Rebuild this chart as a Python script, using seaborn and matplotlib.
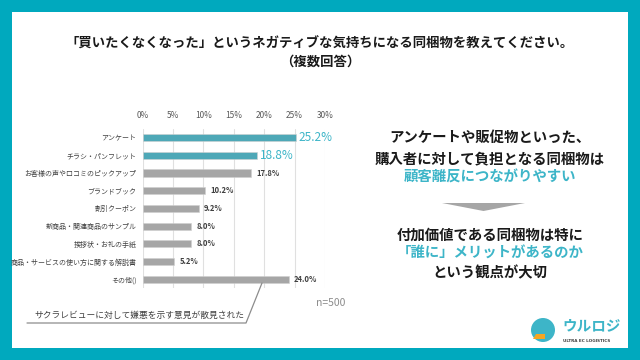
import matplotlib
matplotlib.use("Agg")
import matplotlib.pyplot as plt
import seaborn as sns
import pandas as pd
from matplotlib.patches import Rectangle, Polygon, Ellipse
from matplotlib.lines import Line2D

sns.set_style("white")
plt.rcParams['font.family'] = ['Noto Sans CJK JP', 'DejaVu Sans']

# data
categories = ["アンケート", "チラシ・パンフレット", "お客様の声や口コミのピックアップ",
              "ブランドブック", "割引クーポン", "新商品・関連商品のサンプル",
              "挨拶状・お礼の手紙", "商品・サービスの使い方に関する解説書", "その他()"]
values = [25.2, 18.8, 17.8, 10.2, 9.2, 8.0, 8.0, 5.2, 24.0]
highlight = [True, True, False, False, False, False, False, False, False]
xticks = [0, 5, 10, 15, 20, 25, 30]

TEAL = "#00a9be"
BAR_TEAL = "#3db5c8"
GRAY = "#a6a6a6"

df = pd.DataFrame({"cat": categories, "val": values})
df["grp"] = ["hi" if h else "lo" for h in highlight]

fig = plt.figure(figsize=(6.4, 3.6), dpi=100)
fig.patch.set_facecolor(TEAL)

def px(x, y):
    return (x / 640, 1 - y / 360)

# white panel
x0, y0 = px(12, 348)
fig.patches.append(Rectangle((x0, y0), (628 - 12) / 640, (348 - 12) / 360,
                             transform=fig.transFigure, facecolor="white",
                             edgecolor="none", zorder=-5))

# title
fig.text(*px(320, 44), "「買いたくなくなった」というネガティブな気持ちになる同梱物を教えてください。",
         ha="center", va="center", fontsize=9.6, fontweight="bold", color="#1a1a1a")
fig.text(*px(320, 62), "（複数回答）", ha="center", va="center", fontsize=9.6,
         fontweight="bold", color="#1a1a1a")

# bar chart
left, right = 142.7, 325
top, bottom = 128.8, 288
ax = fig.add_axes([left / 640, 1 - bottom / 360, (right - left) / 640, (bottom - top) / 360])
ax.set_zorder(2)
ax.set_facecolor("none")
sns.barplot(data=df, x="val", y="cat", hue="grp", palette={"hi": BAR_TEAL, "lo": GRAY},
            dodge=False, legend=False, width=0.4, ax=ax, orient="h",
            edgecolor="#d0d0d0", linewidth=0.4)
ax.set_xlim(0, 30)
ax.set_ylim(8.5, -0.5)
ax.set_xticks(xticks)
ax.set_xticklabels([f"{t}%" for t in xticks])
ax.xaxis.tick_top()
ax.tick_params(axis="x", length=0, labelsize=6, colors="#595959", pad=6)
ax.tick_params(axis="y", length=0, labelsize=5.0, colors="#404040", pad=4.5)
ax.grid(axis="x", color="#e0e0e0", linewidth=0.8)
ax.set_axisbelow(True)
for s in ax.spines.values():
    s.set_visible(False)
ax.set_xlabel("")
ax.set_ylabel("")

for i, (v, h) in enumerate(zip(values, highlight)):
    if h:
        ax.text(v + 0.5, i, f"{v:.1f}%", va="center", ha="left", fontsize=8.5,
                color=BAR_TEAL)
    else:
        ax.text(v + 0.9, i, f"{v:.1f}%", va="center", ha="left", fontsize=5.5,
                fontweight="bold", color="#404040")

# n and callout
fig.text(*px(331, 303), "n=500", ha="center", va="center", fontsize=7.5, color="#8c8c8c")
fig.text(*px(139, 315), "サクラレビューに対して嫌悪を示す意見が散見された", ha="center",
         va="center", fontsize=6.3, color="#404040")
xs, ys = zip(px(27, 323), px(246, 323), px(262, 283))
fig.lines.append(Line2D(xs, ys, transform=fig.transFigure, color="#8c8c8c", linewidth=0.9))

# right message
cx = 490
for y, s, c in [(138, "アンケートや販促物といった、", "#1a1a1a"),
                (159, "購入者に対して負担となる同梱物は", "#1a1a1a"),
                (178, "顧客離反につながりやすい", BAR_TEAL),
                (236, "付加価値である同梱物は特に", "#1a1a1a"),
                (254, "「誰に」メリットがあるのか", BAR_TEAL),
                (273, "という観点が大切", "#1a1a1a")]:
    fig.text(*px(cx, y), s, ha="center", va="center", fontsize=10.4,
             fontweight="bold", color=c)
fig.patches.append(Polygon([px(442, 203), px(525, 203), px(483.5, 211)], closed=True,
                           transform=fig.transFigure, facecolor=GRAY, edgecolor="none"))

# logo
fig.patches.append(Ellipse(px(543, 330), 24 / 640, 24 / 360, transform=fig.transFigure,
                           facecolor=BAR_TEAL, edgecolor="none"))
fig.patches.append(Polygon([px(533, 339), px(545, 339), px(545, 334), px(536, 334)],
                           closed=True, transform=fig.transFigure,
                           facecolor="#f5a623", edgecolor="none"))
fig.text(*px(562, 325), "ウルロジ", ha="left", va="center", fontsize=10.5,
         fontweight="bold", style="italic", color=BAR_TEAL)
fig.text(*px(563, 341), "ULTRA EC LOGISTICS", ha="left", va="center", fontsize=3,
         fontweight="bold", color="#404040", family=["DejaVu Sans"])

fig.savefig("out.png", dpi=100, facecolor=fig.get_facecolor())
